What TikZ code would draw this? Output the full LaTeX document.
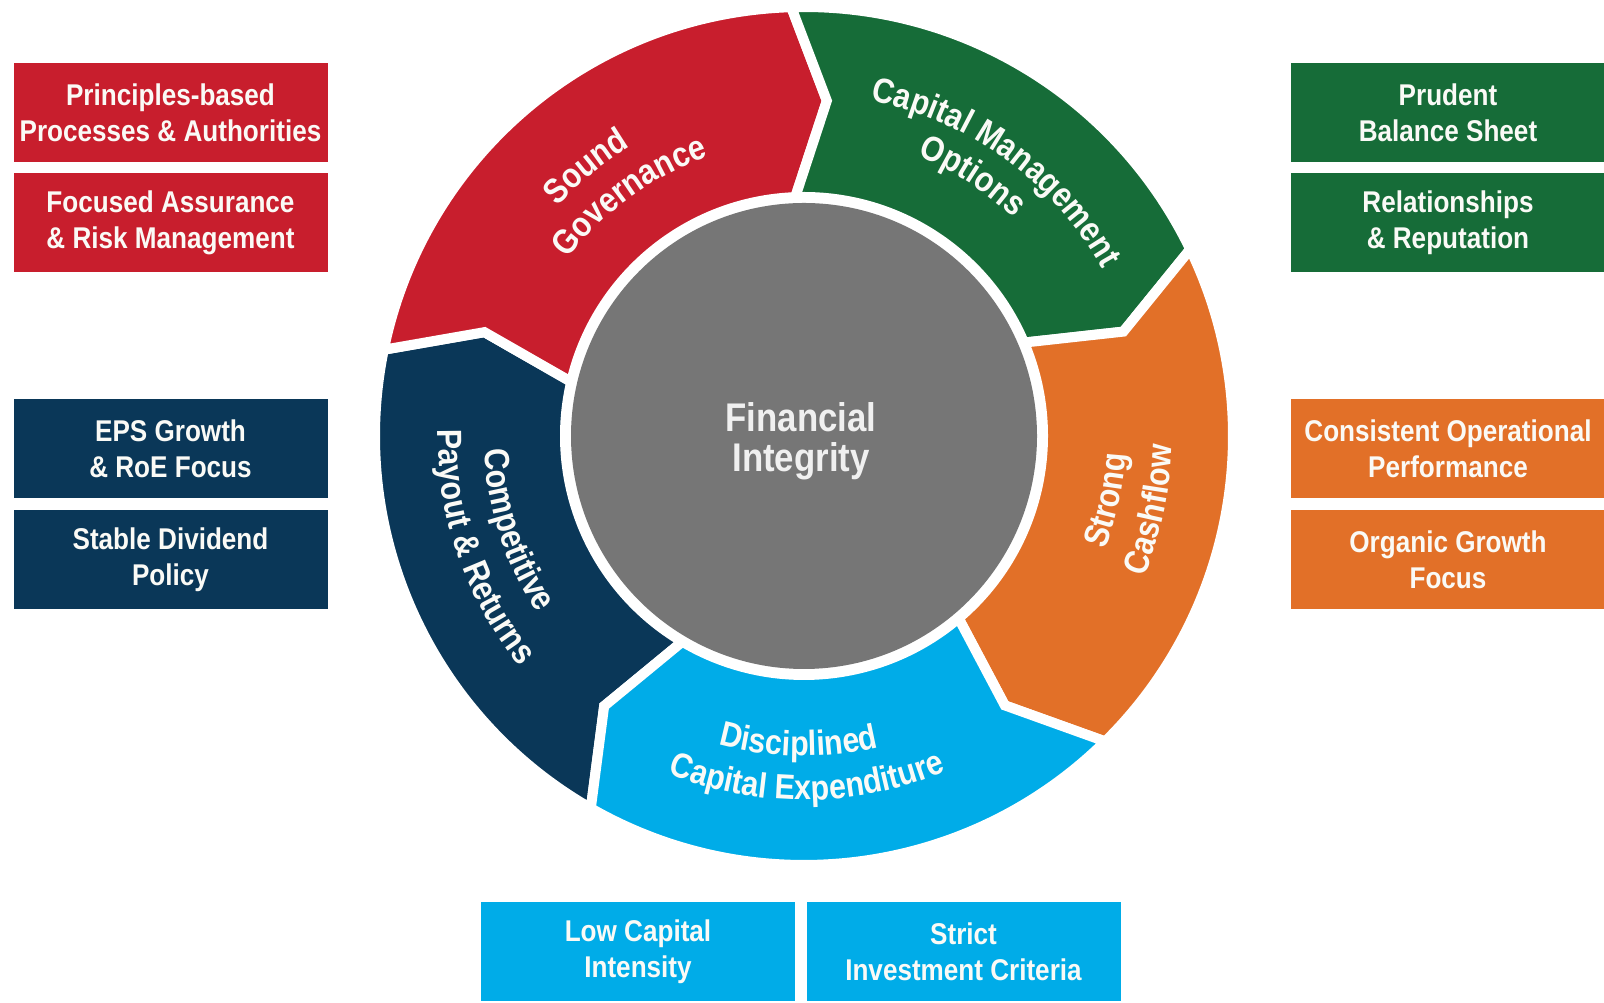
\documentclass[tikz,border=0pt]{standalone}
\usepackage{fontspec}
\setmainfont[FakeStretch=0.87]{Liberation Sans}
\usetikzlibrary{decorations.text}
\definecolor{cRed}{RGB}{200,30,45}
\definecolor{cGreen}{RGB}{22,108,56}
\definecolor{cOrange}{RGB}{226,112,40}
\definecolor{cBlue}{RGB}{0,172,232}
\definecolor{cNavy}{RGB}{10,55,88}
\definecolor{cGray}{RGB}{118,118,118}
\definecolor{txt}{RGB}{250,250,246}
\definecolor{ctxt}{RGB}{240,240,240}
\newcommand\ringseg[7]{%
  \path[seg, fill=#1] (#2:429) arc[start angle=#2, end angle=#5, radius=429pt]
     -- (#6:336) -- (#7:239) arc[start angle=#7, end angle=#4, radius=239pt]
     -- (#3:336) -- cycle;}
\newcommand\ringfont{\fontsize{35}{40}\selectfont\bfseries}
\begin{document}
\begin{tikzpicture}[x=1pt,y=1pt,
  box/.style={minimum width=314pt, minimum height=99pt, inner sep=0pt, align=center,
    text=txt, font=\fontsize{30}{36}\selectfont\bfseries},
  seg/.style={draw=white, line width=10pt, line join=miter},
  lbl/.style={decorate, decoration={text along path, text align=center, text color=txt,
    text={|\ringfont|#1}}}]
\fill[white] (0,0) rectangle (1604,1003);
\useasboundingbox (0,0) rectangle (1604,1003);

% left boxes
\node[box, fill=cRed] (b1) at (170.5,890.5) {Principles-based\\Processes \& Authorities};
\node[box, fill=cRed] (b2) at (170.5,780.5) {Focused Assurance\\\& Risk Management};
\node[box, fill=cNavy] (b3) at (170.5,554.5) {EPS Growth\\\& RoE Focus};
\node[box, fill=cNavy] (b4) at (170.5,443.5) {Stable Dividend\\Policy};
% right boxes
\node[box, fill=cGreen] (b5) at (1448,890.5) {Prudent\\Balance Sheet};
\node[box, fill=cGreen] (b6) at (1448,780.5) {Relationships\\\& Reputation};
\node[box, fill=cOrange] (b7) at (1448,554.5) {Consistent Operational\\Performance};
\node[box, fill=cOrange] (b8) at (1448,443.5) {Organic Growth\\Focus};
% bottom boxes
\node[box, fill=cBlue] (b9) at (638,51.5) {Low Capital\\Intensity};
\node[box, fill=cBlue] (b10) at (963.5,51.5) {Strict\\Investment Criteria};

\begin{scope}[shift={(804,567)}]
  % segments: colour, start boundary (outer, mid, inner), end boundary (outer, mid, inner)
  \ringseg{cNavy}{240.2}{233.5}{239.4}{168.4}{162}{166.9}
  \ringseg{cRed}{168.4}{162}{166.9}{91.7}{86.1}{92.1}
  \ringseg{cGreen}{91.7}{86.1}{92.1}{25.8}{18.1}{23}
  \ringseg{cOrange}{25.8}{18.1}{23}{-45.4}{-53.3}{-49.7}
  \ringseg{cBlue}{-45.4}{-53.3}{-49.7}{-119.8}{-126.5}{-120.6}
  \fill[cGray] (0,0) circle[radius=233pt];
  \node[font=\fontsize{40}{40}\selectfont\bfseries, text=ctxt, align=center] (fi) at (-3,-5) {Financial\\Integrity};

  % ring labels
  \path[lbl=Sound] (169:337) arc[start angle=169, end angle=89, radius=337pt];
  \path[lbl=Governance] (166:295) arc[start angle=166, end angle=86, radius=295pt];
  \path[lbl=Capital Management] (94:342) arc[start angle=94, end angle=14, radius=342pt];
  \path[lbl=Options] (97:302) arc[start angle=97, end angle=17, radius=302pt];
  \path[lbl=Strong] (-52:322) arc[start angle=-52, end angle=28, radius=322pt];
  \path[lbl=Cashflow] (-52:368) arc[start angle=-52, end angle=28, radius=368pt];
  \path[lbl=Disciplined] (229:320) arc[start angle=229, end angle=309, radius=320pt];
  \path[lbl=Capital Expenditure] (230.5:364) arc[start angle=230.5, end angle=310.5, radius=364pt];
  \path[lbl=Competitive] (158:320) arc[start angle=158, end angle=238, radius=320pt];
  \path[lbl={Payout {\&} Returns}] (159:366) arc[start angle=159, end angle=239, radius=366pt];
\end{scope}
\end{tikzpicture}
\end{document}
